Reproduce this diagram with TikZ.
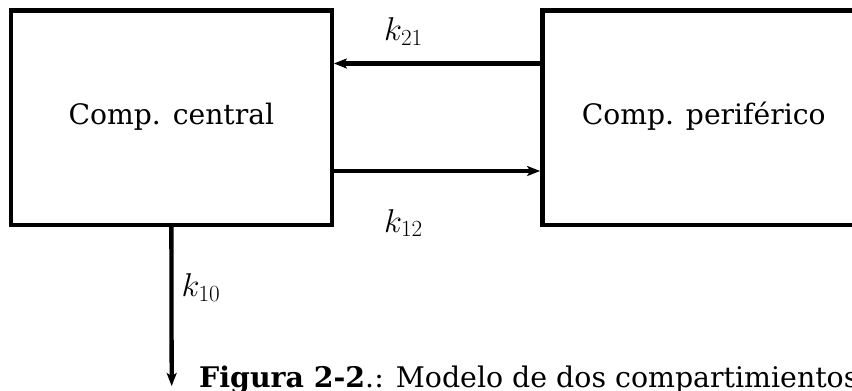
\RequirePackage{fix-cm}
\documentclass[tikz,border=0pt]{standalone}
\usepackage{fontspec}
\newfontfamily\dejavu{DejaVu Serif}
\usetikzlibrary{arrows.meta}
\begin{document}
\begin{tikzpicture}[x=1pt,y=-1pt,
  comp/.style={draw, line width=4.4pt, minimum width=320.7pt, minimum height=214.4pt,
    inner sep=0pt, font=\dejavu\fontsize{28.2}{34}\selectfont, text height=21pt, text depth=7pt},
  flow/.style={line width=4.3pt, -{Stealth[length=13pt,width=10pt,inset=3pt]}},
  rate/.style={anchor=base west, inner sep=0pt, font=\fontsize{33}{40}\selectfont},
  capt/.style={anchor=base west, inner sep=0pt, font=\dejavu\fontsize{28.4}{34}\selectfont},
]
\clip (0,0) rectangle (852,391);
\node[comp] (central) at (171.35,117.5) {Comp. central};
\node[comp, minimum width=322.8pt] (peri) at (703.7,117.5) {Comp. periférico};
\draw[flow] ([yshift=54pt]peri.west) -- ([yshift=54pt]central.east);
\draw[flow] ([yshift=-53.5pt]central.east) -- ([yshift=-53.5pt]peri.west);
\coordinate (out) at (171.7,386);
\draw[flow] (central.south) -- (out);
\node[rate] (k21) at (384,40.5) {$k_{21}$};
\node[rate] (k12) at (384,232) {$k_{12}$};
\node[rate] (k10) at (181.5,296.5) {$k_{10}$};
\node[capt] (cap) at (199,387.7) {\textbf{Figura 2-2}.: Modelo de dos compartimientos};
\end{tikzpicture}
\end{document}
